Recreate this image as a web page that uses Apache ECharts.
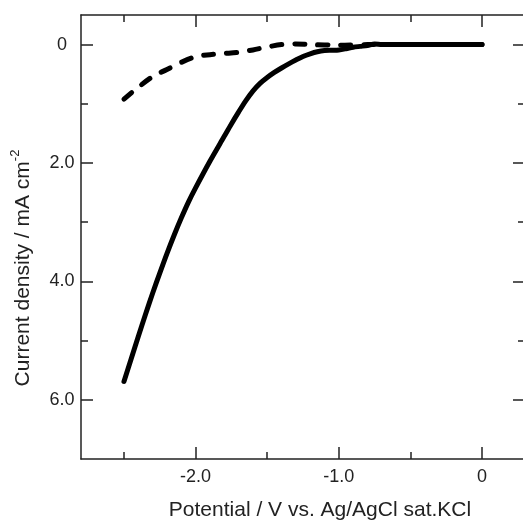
<!DOCTYPE html>
<html>
<head>
<meta charset="utf-8">
<script src="https://cdn.jsdelivr.net/npm/echarts@6/dist/echarts.min.js"></script>
<style>
  html, body { margin: 0; padding: 0; background: #fff; }
  #chart { width: 523px; height: 523px; }
</style>
</head>
<body>
<div id="chart"></div>
<script>
// solid curve
const solidPotential = [-2.5, -2.45, -2.4, -2.35, -2.3, -2.25, -2.2, -2.15, -2.1, -2.05, -2.0, -1.9, -1.8, -1.75, -1.7, -1.65, -1.6, -1.55, -1.5, -1.45, -1.4, -1.35, -1.3, -1.25, -1.2, -1.15, -1.1, -1.05, -1.0, -0.95, -0.9, -0.85, -0.8, -0.75, -0.7, -0.6, -0.4, -0.2, 0];
const solidCurrent = [5.69, 5.31, 4.93, 4.56, 4.2, 3.86, 3.53, 3.22, 2.93, 2.66, 2.42, 1.97, 1.55, 1.34, 1.14, 0.95, 0.785, 0.655, 0.555, 0.47, 0.395, 0.325, 0.26, 0.2, 0.155, 0.12, 0.1, 0.095, 0.09, 0.07, 0.045, 0.03, 0.015, -0.01, 0, 0, 0, 0, 0];
// dashed curve
const dashedPotential = [-2.5, -2.4, -2.3, -2.2, -2.1, -2.0, -1.9, -1.8, -1.7, -1.6, -1.5, -1.4, -1.3, -1.2, -1.0, -0.8, 0];
const dashedCurrent = [0.92, 0.72, 0.54, 0.42, 0.3, 0.205, 0.17, 0.15, 0.13, 0.09, 0.04, 0.0, -0.01, 0, 0.01, 0, 0];

const xMajor = [-2, -1, 0];
const xMinor = [-2.5, -1.5, -0.5];
const yMajor = [0, 2, 4, 6];
const yMinor = [1, 3, 5];

const ink = "#222";
const font = "Liberation Sans, Arial, sans-serif";

function fmt(v) {
  return v === 0 ? "0" : v.toFixed(1);
}

function xAxis(position, ticks, len, labels, line) {
  return {
    type: "value", min: -2.8, max: 0.3, position,
    axisLine: { show: line, onZero: false, lineStyle: { color: ink, width: 1.5 } },
    axisTick: { show: true, inside: true, length: len, customValues: ticks, lineStyle: { color: ink, width: 1.5 } },
    axisLabel: { show: labels, customValues: ticks, formatter: fmt, margin: 9, color: ink, fontSize: 18, fontFamily: font },
    splitLine: { show: false },
  };
}

function yAxis(position, ticks, len, labels, line) {
  return {
    type: "value", min: -0.5, max: 7, inverse: true, position,
    axisLine: { show: line, onZero: false, lineStyle: { color: ink, width: 1.5 } },
    axisTick: { show: true, inside: true, length: len, customValues: ticks, lineStyle: { color: ink, width: 1.5 } },
    axisLabel: { show: labels, customValues: ticks, formatter: fmt, margin: 19, align: "center", color: ink, fontSize: 18, fontFamily: font },
    splitLine: { show: false },
  };
}

const xBottom = xAxis("bottom", xMajor, 12, true, true);
xBottom.name = "Potential / V vs. Ag/AgCl sat.KCl";
xBottom.nameLocation = "middle";
xBottom.nameGap = 41;
xBottom.nameTextStyle = { color: ink, fontSize: 21, fontFamily: font, padding: [0, 0, 0, 34] };

const yLeft = yAxis("left", yMajor, 12, true, true);
yLeft.name = "Current density / mA cm{sup|-2}";
yLeft.nameLocation = "middle";
yLeft.nameGap = 44;
yLeft.nameRotate = 90;
yLeft.nameTextStyle = {
  color: ink, fontSize: 21, fontFamily: font, lineHeight: 28, padding: [0, 62, 0, 0],
  rich: { sup: { color: ink, fontSize: 13, fontFamily: font, lineHeight: 13, verticalAlign: "top" } },
};

const chart = echarts.init(document.getElementById("chart"));
chart.setOption({
  animation: false,
  backgroundColor: "#fff",
  grid: { left: 81, top: 15, right: -2, bottom: 64, outerBoundsMode: "none" },
  xAxis: [
    xBottom,
    xAxis("bottom", xMinor, 7, false, false),
    xAxis("top", xMajor, 12, false, true),
    xAxis("top", xMinor, 7, false, false),
  ],
  yAxis: [
    yLeft,
    yAxis("left", yMinor, 7, false, false),
    yAxis("right", yMajor, 12, false, true),
    yAxis("right", yMinor, 7, false, false),
  ],
  series: [
    {
      type: "line", xAxisIndex: 0, yAxisIndex: 0, showSymbol: false, smooth: 0.3,
      data: solidPotential.map((v, i) => [v, solidCurrent[i]]),
      lineStyle: { color: "#000", width: 5, cap: "round", join: "round" },
    },
    {
      type: "line", xAxisIndex: 0, yAxisIndex: 0, showSymbol: false, smooth: 0.3,
      data: dashedPotential.map((v, i) => [v, dashedCurrent[i]]),
      lineStyle: { color: "#000", width: 5, type: [10, 13], cap: "round", join: "round" },
    },
  ],
});
</script>
</body>
</html>
